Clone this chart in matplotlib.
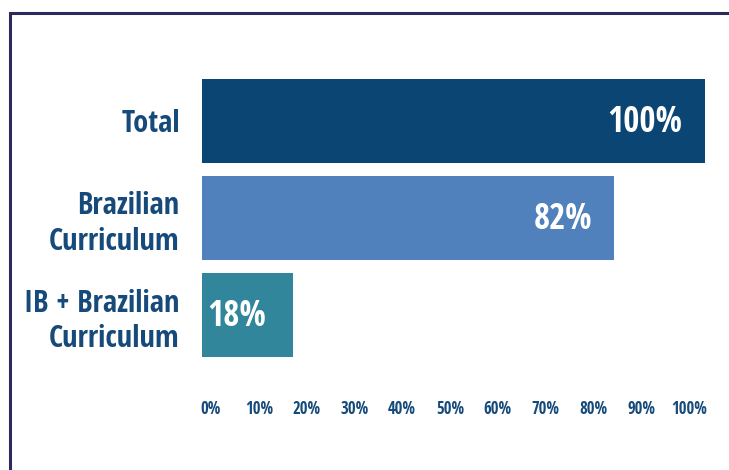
import matplotlib
matplotlib.use("Agg")
import matplotlib.pyplot as plt
from matplotlib.lines import Line2D

plt.rcParams['font.family'] = ['Open Sans Condensed', 'DejaVu Sans']
plt.rcParams['font.weight'] = 'bold'

categories = ["Total", "Brazilian\nCurriculum", "IB + Brazilian\nCurriculum"]
shares = [100, 82, 18]
bar_colors = ["#0b4574", "#5081bd", "#31869c"]
tick_values = [0, 10, 20, 30, 40, 50, 60, 70, 80, 90, 100]

text_color = "#164a7b"
W, H = 729, 470

fig = plt.figure(figsize=(W / 100, H / 100), dpi=100)

# axes placed in pixels: bars span 202..705 px, centers 121/218/315 px
left, right = 202, 705
top, bottom = 72.5, 363.5
ax = fig.add_axes([left / W, 1 - bottom / H, (right - left) / W, (bottom - top) / H])

ypos = list(range(len(categories)))
ax.barh(ypos, shares, height=0.866, color=bar_colors)
ax.set_xlim(0, 100)
ax.set_ylim(len(categories) - 0.5, -0.5)

for y, v in zip(ypos, shares):
    if v >= 25:
        ax.annotate(f"{v}%", xy=(v, y), xytext=(-16, -1.5), textcoords="offset points",
                    ha="right", va="center", color="white", fontsize=25,
                    fontweight="bold")
    else:
        # short bar: label starts near the bar's left end
        ax.annotate(f"{v}%", xy=(0, y), xytext=(3.5, -1.5), textcoords="offset points",
                    ha="left", va="center", color="white", fontsize=25,
                    fontweight="bold")

ax.set_yticks(ypos)
ax.set_yticklabels(categories, fontsize=22, fontweight="bold", color=text_color,
                   ha="right", linespacing=1.25)
ax.tick_params(axis="y", length=0, pad=16)
ax.set_xticks([])
for s in ax.spines.values():
    s.set_visible(False)

# percentage scale drawn on its own axis (labels are offset from the bars)
ax2 = ax.twiny()
ax2.set_xlim(-1.88, 103.35)
ax2.xaxis.set_ticks_position("bottom")
ax2.set_xticks(tick_values)
ax2.set_xticklabels([f"{t}%" for t in tick_values], fontsize=12,
                    fontweight="bold", color=text_color)
ax2.tick_params(axis="x", length=0, pad=26)
for s in ax2.spines.values():
    s.set_visible(False)

# frame along left and top edges
border = "#2b2a5c"
fig.add_artist(Line2D([10 / W, 10 / W, 1], [0, 1 - 13 / H, 1 - 13 / H],
                      transform=fig.transFigure, color=border, linewidth=2.2,
                      solid_joinstyle="miter"))

fig.savefig("out.png", dpi=100, facecolor="white")
